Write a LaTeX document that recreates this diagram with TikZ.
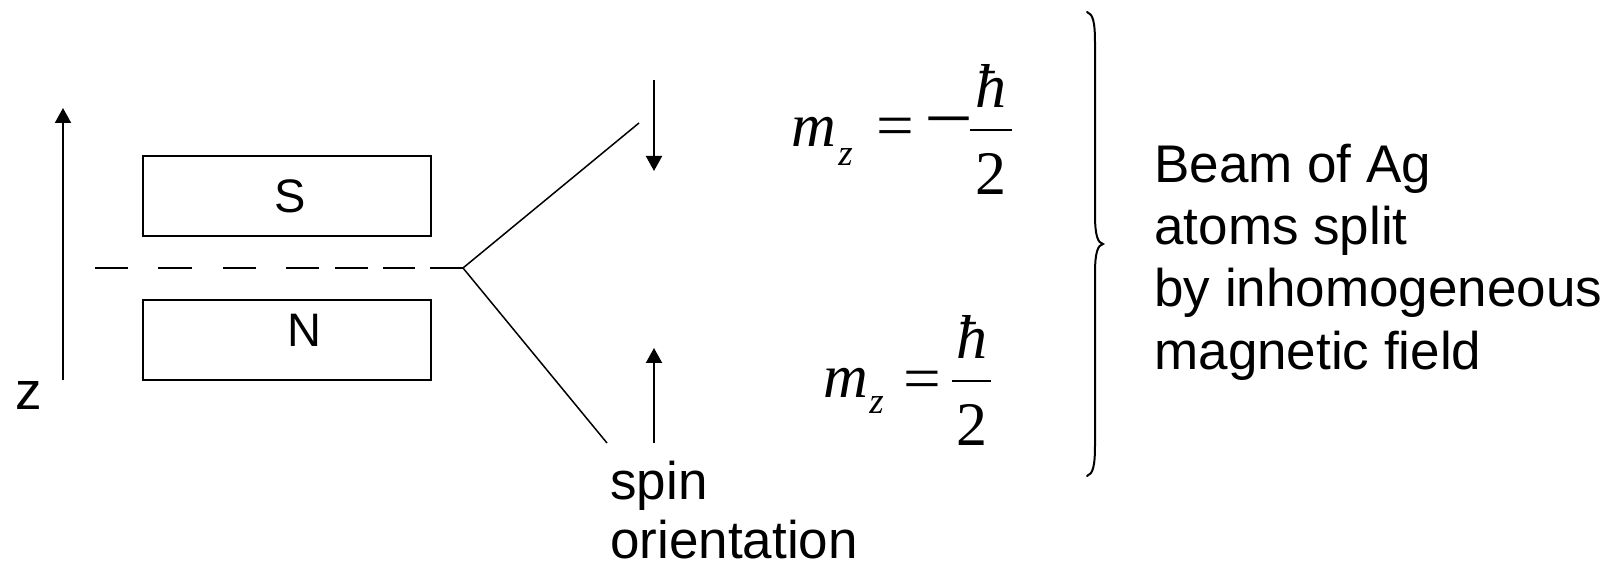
\documentclass[tikz,border=0pt]{standalone}
\usepackage{fontspec}
\setmainfont{Liberation Sans}
\newfontfamily\tnr{Liberation Serif}
\usetikzlibrary{arrows.meta}
\begin{document}
\begin{tikzpicture}[x=0.5pt,y=-0.5pt,
  lbl/.style={inner sep=0pt, anchor=base west, font=\fontsize{26.5}{31.5}\selectfont},
  pole/.style={draw, line width=1pt, minimum width=144pt, minimum height=40pt, inner sep=0pt},
  polelbl/.style={inner sep=0pt, font=\fontsize{23.5}{28}\selectfont},
  mth/.style={inner sep=0pt, font=\fontsize{31}{36}\tnr},
  subs/.style={inner sep=0pt, anchor=base west, font=\fontsize{18.5}{22}\tnr\itshape},
  axis/.style={line width=1pt, -{Triangle[length=7.5pt,width=8pt]}},
  beam/.style={line width=0.75pt},
  beamdash/.style={line width=0.7pt, dash pattern=on 16.5pt off 15pt on 17pt off 15.5pt on 16.5pt off 15pt on 16.5pt off 8pt on 16.5pt off 7.5pt on 16pt off 7.5pt on 16.5pt off 100pt},
  fracbar/.style={line width=1pt},
  bracestyle/.style={line width=1pt, line cap=round}]
\useasboundingbox (0,0) rectangle (1619,566);

% z axis
\coordinate (zb) at (63,380);
\coordinate (zt) at (63,108);
\draw[axis] (zb) -- (zt);
\node[inner sep=0pt, font=\fontsize{26.5}{31.5}\selectfont] (zlbl) at (28.5,396) {z};

% magnet poles
\node[pole] (S) at (287,196) {};
\node[pole] (N) at (287,340) {};
\node[polelbl] (Slbl) at (290,196) {S};
\node[polelbl] (Nlbl) at (304,330) {N};

% beam
\coordinate (d0) at (95,268);
\coordinate (br) at (463,268);
\coordinate (upend) at (639,123);
\coordinate (dnend) at (607,443);
\draw[beamdash] (d0) -- (br);
\draw[beam] (br) -- (upend);
\draw[beam] (br) -- (dnend);

% spin arrows
\coordinate (s1a) at (654,80);
\coordinate (s1b) at (654,171);
\coordinate (s2a) at (654,443);
\coordinate (s2b) at (654,348);
\draw[axis] (s1a) -- (s1b);
\draw[axis] (s2a) -- (s2b);

\node[lbl] (spin) at (610,500) {spin};
\node[lbl] (orient) at (610,559) {orientation};

% upper formula
\node[mth, anchor=base west] (m1) at (791,147) {\itshape m};
\node[subs] (z1) at (838,166) {z};
\node[mth] (eq1) at (895,132) {\scalebox{1.08}[1]{=}};
\node[mth] (mi1) at (949,130) {\scalebox{1.4}[1.2]{−}};
\coordinate (b1l) at (970,130);
\coordinate (b1r) at (1012,130);
\draw[fracbar] (b1l) -- (b1r);
\node[mth, anchor=south] (h1) at (991,108) {\itshape ħ};
\node[mth, anchor=north] (two1) at (991,153) {2};

% lower formula
\node[mth, anchor=base west] (m2) at (823,398) {\itshape m};
\node[subs] (z2) at (869,414) {z};
\node[mth] (eq2) at (922,385) {\scalebox{1.08}[1]{=}};
\coordinate (b2l) at (952,381);
\coordinate (b2r) at (991,381);
\draw[fracbar] (b2l) -- (b2r);
\node[mth, anchor=south] (h2) at (972,359) {\itshape ħ};
\node[mth, anchor=north] (two2) at (971.5,404) {2};

% brace
\draw[bracestyle] (1087,12) .. controls (1093,14) and (1095,22) .. (1095,43)
  -- (1095,215) .. controls (1095,236) and (1098,243) .. (1103,244)
  .. controls (1098,245) and (1095,252) .. (1095,273)
  -- (1095,445) .. controls (1095,466) and (1093,474) .. (1087,476);

% description
\node[lbl] (t1) at (1154,183) {Beam of Ag};
\node[lbl] (t2) at (1154,245) {atoms split};
\node[lbl] (t3) at (1154,307) {by inhomogeneous};
\node[lbl] (t4) at (1154,370) {magnetic field};
\end{tikzpicture}
\end{document}
